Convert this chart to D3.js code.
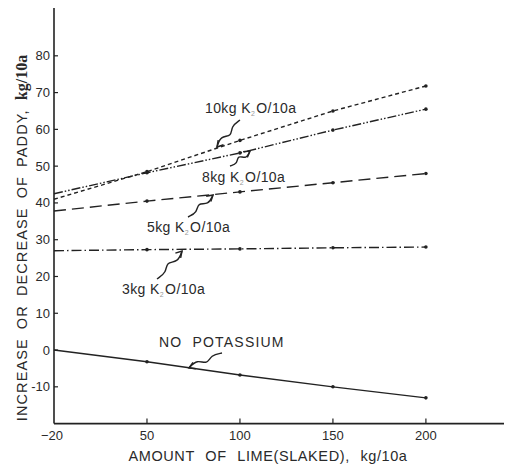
<!DOCTYPE html>
<html>
<head>
<meta charset="utf-8">
<script src="https://cdn.jsdelivr.net/npm/d3@7"></script>
<style>
  body { margin: 0; background: #fff; }
  text { font-family: "Liberation Sans", Arial, sans-serif; fill: #2a2a2a; }
</style>
</head>
<body>
<div id="chart"></div>
<script>
// lime applied (kg/10a)
const lime = [0, 50, 100, 150, 200];

// change in paddy yield (kg/10a) for each potassium level
const noK = [0, -3.2, -6.8, -10, -13];
const k3 = [27, 27.3, 27.5, 27.8, 28];
const k5 = [37.8, 40.5, 43, 45.5, 48];
const k8 = [42.5, 48.2, 53.6, 59.8, 65.5];
const k10 = [41, 48.5, 57, 65, 71.8];

const xTicks = [50, 100, 150, 200];
const yTicks = [-10, 0, 10, 20, 30, 40, 50, 60, 70, 80];

const width = 511, height = 465;
const svg = d3.select("#chart").append("svg")
  .attr("width", width).attr("height", height);

const x = d3.scaleLinear().domain([0, 242]).range([54, 504]);
const y = d3.scaleLinear().domain([-20, 93]).range([423.6, 8]);

const ink = "#222";

// axes
svg.append("line")
  .attr("x1", x(0)).attr("x2", x(242))
  .attr("y1", y(-20)).attr("y2", y(-20))
  .attr("stroke", ink).attr("stroke-width", 1.6);
svg.append("line")
  .attr("x1", x(0)).attr("x2", x(0))
  .attr("y1", y(-20)).attr("y2", y(93))
  .attr("stroke", ink).attr("stroke-width", 1.6);

// x ticks (pointing up)
svg.selectAll(".xt").data(xTicks).enter().append("line")
  .attr("x1", d => x(d)).attr("x2", d => x(d))
  .attr("y1", y(-20)).attr("y2", y(-20) - 5)
  .attr("stroke", ink).attr("stroke-width", 1.2);
svg.selectAll(".xl").data(xTicks).enter().append("text")
  .attr("x", d => x(d)).attr("y", y(-20) + 16)
  .attr("text-anchor", "middle").attr("font-size", 13)
  .text(d => d);

// y ticks (pointing right)
svg.selectAll(".yt").data(yTicks).enter().append("line")
  .attr("x1", x(0)).attr("x2", x(0) + 4)
  .attr("y1", d => y(d)).attr("y2", d => y(d))
  .attr("stroke", ink).attr("stroke-width", 1.2);
svg.selectAll(".yl").data(yTicks).enter().append("text")
  .attr("x", x(0) - 4).attr("y", d => y(d) + 4.5)
  .attr("text-anchor", "end").attr("font-size", 13)
  .text(d => d);
// bottom y label sits under the corner
svg.append("text")
  .attr("x", x(0) - 2).attr("y", y(-20) + 16)
  .attr("text-anchor", "middle").attr("font-size", 13)
  .text("\u221220");

// axis titles
svg.append("text")
  .attr("x", 268).attr("y", 461)
  .attr("text-anchor", "middle").attr("font-size", 14.5)
  .attr("letter-spacing", 0.6).attr("word-spacing", 6)
  .text("AMOUNT OF LIME(SLAKED), kg/10a");

const yt = svg.append("text")
  .attr("transform", "translate(27,238) rotate(-90)")
  .attr("text-anchor", "middle").attr("font-size", 14.5)
  .attr("letter-spacing", 1.1).attr("word-spacing", 4);
yt.append("tspan").text("INCREASE OR DECREASE OF PADDY, ");
yt.append("tspan")
  .attr("font-family", "Liberation Serif, serif").attr("font-weight", "bold")
  .attr("letter-spacing", 0).attr("font-size", 16)
  .text("kg/10a");

// series
const series = [
  { name: "none", values: noK, dash: null },
  { name: "k3", values: k3, dash: "10,3,1.5,3" },
  { name: "k5", values: k5, dash: "12,6" },
  { name: "k8", values: k8, dash: "9,2,1.5,2,1.5,2" },
  { name: "k10", values: k10, dash: "4,3" }
];

const line = d3.line().x(d => x(d[0])).y(d => y(d[1]));

series.forEach(s => {
  const pts = lime.map((l, i) => [l, s.values[i]]);
  svg.append("path")
    .attr("d", line(pts))
    .attr("fill", "none").attr("stroke", ink).attr("stroke-width", 1.4)
    .attr("stroke-dasharray", s.dash);
  svg.selectAll(".pt-" + s.name).data(pts.slice(1)).enter().append("circle")
    .attr("cx", d => x(d[0])).attr("cy", d => y(d[1]))
    .attr("r", 1.8).attr("fill", ink);
});

// labels with wavy arrows
function label(tx, ty, k, txt) {
  const t = svg.append("text").attr("x", tx).attr("y", ty)
    .attr("font-size", 14).attr("letter-spacing", 0.4);
  if (k) {
    t.append("tspan").text(txt + "kg K");
    t.append("tspan").attr("font-size", 7).attr("dy", 3).attr("fill", "#999").text("2");
    t.append("tspan").attr("dy", -3).attr("dx", 1).text("O/10a");
  } else {
    t.attr("letter-spacing", 1.2).attr("word-spacing", 5).text(txt);
  }
}

function squiggle(sx, sy, ex, ey) {
  const dx = ex - sx, dy = ey - sy;
  const len = Math.hypot(dx, dy);
  const nx = -dy / len, ny = dx / len;
  const a = 4.5;
  const p = (t, o) => [sx + dx * t + nx * o, sy + dy * t + ny * o];
  const pts = [p(0, 0), p(0.3, a * 0.6), p(0.5, -a), p(0.7, a), p(1, 0)];
  svg.append("path")
    .attr("d", d3.line().curve(d3.curveBasis)(pts))
    .attr("fill", "none").attr("stroke", ink).attr("stroke-width", 1.4);
  // arrow head
  const ux = dx / len, uy = dy / len;
  const h = 6, w = 3.5;
  const b1 = [ex - ux * h + nx * w, ey - uy * h + ny * w];
  const b2 = [ex - ux * h - nx * w, ey - uy * h - ny * w];
  svg.append("path")
    .attr("d", `M${b1[0]},${b1[1]}L${ex},${ey}L${b2[0]},${b2[1]}`)
    .attr("fill", "none").attr("stroke", ink).attr("stroke-width", 1.5);
}

label(205, 113, true, "10");
squiggle(240, 120, 217, 147);
label(202, 182, true, "8");
squiggle(230, 166, 250, 151);
label(147, 232, true, "5");
squiggle(188, 217, 213, 195);
label(122, 294, true, "3");
squiggle(157, 279, 182, 251);
label(159, 347, false, "NO POTASSIUM");
squiggle(222, 353, 189, 368);
</script>
</body>
</html>
